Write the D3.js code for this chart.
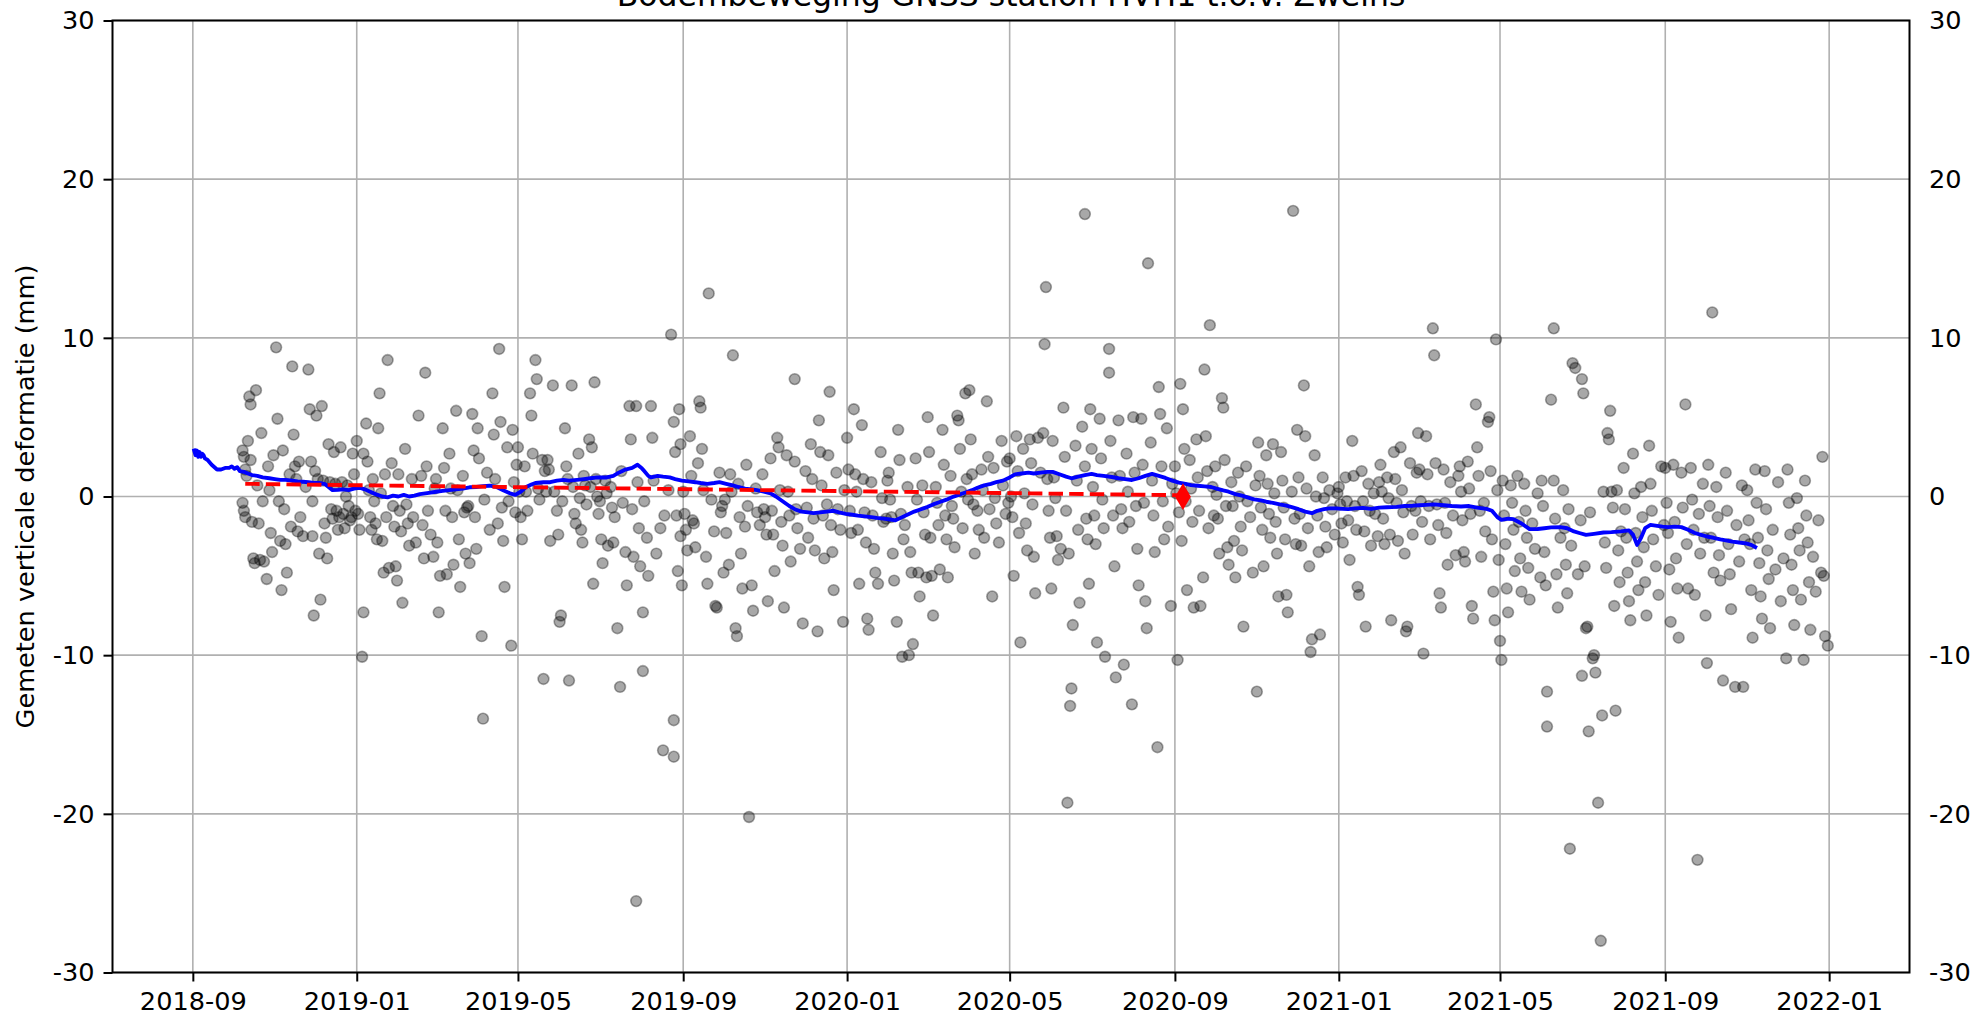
<!DOCTYPE html>
<html>
<head>
<meta charset="utf-8">
<script src="https://cdn.jsdelivr.net/npm/d3@7"></script>
<style>
  body { margin: 0; background: #fff; }
  svg text { font-family: "DejaVu Sans", sans-serif; fill: #000; }
</style>
</head>
<body>
<svg id="chart"></svg>
<script>
// texts
var titleText = "Bodembeweging GNSS station HVH1 t.o.v. Zweins";
var yLabelText = "Gemeten verticale deformatie (mm)";
var yTicks = [-30, -20, -10, 0, 10, 20, 30];

// daily solutions, per year: [month, day, mm]
var obs2018 = [
 [10,8,2.9],[10,8,-0.4],[10,9,2.5],[10,9,-0.9],[10,10,1.7],[10,10,-1.3],[10,11,1.3],[10,12,3.5],[10,13,6.3],[10,14,5.8],[10,14,2.3],[10,15,-1.6],[10,16,-3.9],[10,17,-4.2],[10,18,6.7],[10,19,0.7],[10,20,-1.7],[10,21,-4.0],[10,22,4.0],[10,23,-0.3],[10,24,-4.1],[10,26,-5.2],[10,27,1.9],[10,28,0.4],[10,29,-2.3],[10,30,-3.5],[10,31,2.6],
 [11,2,9.4],[11,3,4.9],[11,4,-0.3],[11,5,-2.8],[11,6,-5.9],[11,7,2.9],[11,8,-0.8],[11,9,-3.0],[11,10,-4.8],[11,12,1.4],[11,13,-1.9],[11,14,8.2],[11,15,3.9],[11,16,1.9],[11,17,1.1],[11,18,-2.2],[11,19,2.2],[11,20,-1.3],[11,22,-2.5],[11,24,0.6],[11,26,8.0],[11,27,5.5],[11,28,2.2],[11,29,-0.3],[11,29,-2.5],[11,30,-7.5],
 [12,1,1.6],[12,2,5.1],[12,3,1.1],[12,4,-3.6],[12,5,-6.5],[12,6,5.7],[12,7,1.0],[12,8,-1.7],[12,9,-2.6],[12,10,-3.9],[12,11,3.3],[12,12,0.9],[12,13,-0.8],[12,14,-1.4],[12,15,2.8],[12,16,0.8],[12,17,-0.9],[12,18,-2.1],[12,19,-1.3],[12,20,3.1],[12,21,0.9],[12,22,-1.1],[12,23,-2.0],[12,24,0.0],[12,25,0.7],[12,26,-0.6],[12,27,-1.5],[12,28,-1.3],[12,29,2.7],[12,30,1.4],[12,31,-0.9]
];
var obs2019 = [
 [1,1,3.5],[1,2,-1.1],[1,3,-2.1],[1,5,-10.1],[1,6,-7.3],[1,6,2.7],[1,8,4.6],[1,9,2.2],[1,10,0.4],[1,11,-1.3],[1,12,-2.1],[1,13,1.1],[1,14,-0.3],[1,15,-1.7],[1,16,-2.7],[1,17,4.3],[1,18,6.5],[1,19,0.2],[1,20,-2.8],[1,21,-4.8],[1,22,1.4],[1,23,-1.3],[1,24,8.6],[1,25,-4.5],[1,27,2.1],[1,28,-0.6],[1,29,-1.9],[1,30,-4.4],[1,31,-5.3],
 [2,1,1.4],[2,2,-0.9],[2,3,-2.2],[2,4,-6.7],[2,6,3.0],[2,7,-0.5],[2,8,-1.7],[2,9,-3.1],[2,11,1.1],[2,12,-1.3],[2,14,-2.9],[2,16,5.1],[2,18,1.3],[2,19,-1.8],[2,20,-3.9],[2,21,7.8],[2,22,1.9],[2,23,-0.9],[2,25,-2.4],[2,27,-3.8],[2,28,0.5],
 [3,1,1.1],[3,2,-2.9],[3,3,-7.3],[3,4,-5.0],[3,6,4.3],[3,7,1.8],[3,8,-0.9],[3,9,-4.9],[3,11,2.7],[3,12,0.5],[3,13,-1.3],[3,14,-4.3],[3,16,5.4],[3,17,0.4],[3,18,-2.7],[3,19,-5.7],[3,21,1.3],[3,22,-1.0],[3,23,-3.6],[3,24,-0.7],[3,25,-0.6],[3,26,-4.2],[3,28,5.2],[3,29,2.9],[3,30,-1.3],[3,31,-3.3],
 [4,1,4.3],[4,2,2.4],[4,4,-8.8],[4,5,-14.0],[4,6,-0.2],[4,8,1.5],[4,10,-2.1],[4,12,6.5],[4,13,3.9],[4,14,1.1],[4,16,-1.7],[4,17,9.3],[4,18,4.7],[4,19,-0.7],[4,20,-2.8],[4,21,-5.7],[4,23,3.1],[4,24,-0.3],[4,26,-9.4],[4,27,4.2],[4,28,0.9],[4,29,-1.0],[4,30,2.0],
 [5,1,3.1],[5,2,0.3],[5,3,-1.3],[5,4,-2.7],[5,6,1.9],[5,7,0.3],[5,8,-0.9],[5,10,6.5],[5,11,5.1],[5,12,2.7],[5,14,8.6],[5,15,7.4],[5,16,0.5],[5,17,-0.2],[5,19,2.3],[5,20,-11.5],[5,21,1.6],[5,22,0.3],[5,23,2.3],[5,24,1.7],[5,25,-2.8],[5,27,7.0],[5,28,0.3],[5,30,-0.9],[5,31,-2.4],
 [6,1,-7.9],[6,2,-7.5],[6,3,-0.3],[6,5,4.3],[6,6,1.9],[6,7,1.1],[6,8,-11.6],[6,10,7.0],[6,11,0.6],[6,12,-1.1],[6,13,-1.7],[6,15,2.7],[6,16,-0.1],[6,17,-2.1],[6,18,-2.9],[6,19,1.3],[6,20,0.7],[6,21,-0.5],[6,23,3.6],[6,24,0.6],[6,25,3.1],[6,26,-5.5],[6,27,7.2],[6,28,1.1],[6,29,0.0],[6,30,-1.1],
 [7,1,-0.3],[7,2,-2.7],[7,3,-4.2],[7,5,1.0],[7,6,0.2],[7,7,-3.1],[7,9,0.6],[7,10,-0.7],[7,11,-2.9],[7,12,-1.3],[7,14,-8.3],[7,16,-12.0],[7,17,1.6],[7,18,-0.4],[7,20,-3.5],[7,21,-5.6],[7,23,5.7],[7,24,3.6],[7,25,-0.8],[7,26,-3.8],[7,28,-25.5],[7,28,5.7],[7,29,0.9],[7,30,-2.0],[7,31,-4.4],
 [8,2,-11.0],[8,2,-7.3],[8,3,-0.3],[8,5,-2.6],[8,6,-5.0],[8,8,5.7],[8,9,3.7],[8,10,1.0],[8,12,-3.6],[8,15,-2.0],[8,17,-16.0],[8,18,-1.2],[8,21,0.4],[8,23,10.2],[8,25,-16.4],[8,25,-14.1],[8,25,4.7],[8,26,2.8],[8,27,-1.2],[8,28,-4.7],[8,29,5.5],[8,30,3.3],[8,30,-2.5],[8,31,-5.6],
 [9,1,0.3],[9,2,-1.1],[9,3,-2.1],[9,4,-3.4],[9,6,3.8],[9,7,1.3],[9,8,-1.5],[9,9,-1.7],[9,10,-3.2],[9,12,2.1],[9,13,6.0],[9,14,5.6],[9,15,3.0],[9,16,0.4],[9,18,-3.8],[9,19,-5.5],[9,20,12.8],[9,22,-0.2],[9,24,-2.2],[9,25,-6.9],[9,26,-7.0],[9,28,1.5],[9,29,-1.0],[9,30,-0.6],
 [10,1,-4.8],[10,2,-0.2],[10,3,-2.3],[10,5,-4.3],[10,6,1.4],[10,7,0.3],[10,8,8.9],[10,10,-8.3],[10,11,-8.8],[10,12,0.8],[10,13,-1.3],[10,14,-3.6],[10,15,-5.8],[10,17,-1.9],[10,18,2.0],[10,19,-0.6],[10,20,-20.2],[10,22,-5.6],[10,23,-7.2],[10,25,0.5],[10,26,-1.0],[10,28,-1.8],[10,30,1.4],[10,31,-0.8],
 [11,1,-1.3],[11,2,-2.4],[11,3,-6.6],[11,5,2.4],[11,6,-0.9],[11,7,-2.4],[11,8,-4.7],[11,10,3.7],[11,11,3.1],[11,12,0.4],[11,13,-1.6],[11,14,-3.1],[11,15,-7.0],[11,17,2.6],[11,18,0.3],[11,19,-1.2],[11,20,-4.1],[11,23,7.4],[11,23,2.2],[11,24,-0.8],[11,25,-2.0],[11,27,-3.3],[11,29,-8.0],
 [12,1,1.6],[12,2,-0.7],[12,3,-2.6],[12,5,3.3],[12,6,1.1],[12,7,-1.4],[12,8,-3.4],[12,10,-8.5],[12,11,4.8],[12,12,2.8],[12,13,0.7],[12,14,-1.2],[12,15,-3.9],[12,19,6.6],[12,18,2.6],[12,17,-0.5],[12,20,-1.8],[12,21,-3.5],[12,22,-5.9],[12,24,1.5],[12,25,-0.8],[12,27,-2.1],[12,29,-7.9],[12,30,0.4]
];
var obs2020 = [
 [1,1,3.7],[1,2,1.7],[1,3,-0.9],[1,4,-2.3],[1,6,5.5],[1,7,1.4],[1,8,0.3],[1,9,-2.1],[1,10,-5.5],[1,12,4.5],[1,13,1.1],[1,14,-1.0],[1,15,-2.9],[1,16,-7.7],[1,17,-8.4],[1,19,0.9],[1,20,-1.2],[1,21,-3.3],[1,22,-4.8],[1,24,-5.5],[1,26,2.8],[1,27,-0.1],[1,28,-1.6],[1,30,-1.4],[1,31,1.0],
 [2,1,1.5],[2,2,-0.2],[2,3,-1.3],[2,4,-3.6],[2,5,-5.3],[2,7,-7.9],[2,8,4.2],[2,9,2.3],[2,10,-1.1],[2,11,-10.1],[2,12,-2.7],[2,13,-1.8],[2,15,0.6],[2,16,-10.0],[2,17,-3.5],[2,18,-4.8],[2,19,-9.3],[2,21,2.4],[2,22,-0.2],[2,23,-4.8],[2,24,-6.3],[2,26,0.7],[2,27,-1.0],[2,28,-2.4],[2,29,-5.1],
 [3,1,5.0],[3,2,2.8],[3,3,-2.6],[3,4,-5.0],[3,5,-7.5],[3,7,0.6],[3,8,-0.4],[3,9,-1.8],[3,10,-4.6],[3,12,4.2],[3,13,2.0],[3,14,-1.2],[3,15,-2.7],[3,16,-5.1],[3,18,1.3],[3,19,-0.6],[3,20,-1.4],[3,21,-3.2],[3,23,5.1],[3,24,4.8],[3,25,3.0],[3,26,0.3],[3,27,-2.0],[3,29,6.5],[3,30,1.1],[3,31,-0.2],
 [4,1,6.7],[4,2,3.6],[4,3,1.4],[4,4,-0.5],[4,5,-3.6],[4,7,-0.9],[4,8,-2.1],[4,10,1.7],[4,11,0.4],[4,12,-2.6],[4,14,6.0],[4,15,2.5],[4,16,-0.8],[4,18,-6.3],[4,19,1.8],[4,20,-0.1],[4,21,-1.7],[4,23,-2.9],[4,25,3.5],[4,26,0.7],[4,28,-1.1],[4,29,2.2],[4,30,-0.4],
 [5,1,2.4],[5,2,0.0],[5,3,-1.3],[5,4,-5.0],[5,6,3.8],[5,7,1.6],[5,8,-2.3],[5,9,-9.2],[5,11,3.0],[5,12,0.2],[5,13,-1.7],[5,14,-3.4],[5,16,3.6],[5,17,2.1],[5,18,-0.5],[5,19,-3.8],[5,20,-6.1],[5,22,3.7],[5,24,1.5],[5,26,4.0],[5,27,9.6],[5,28,13.2],[5,29,1.1],[5,30,-0.9],[5,31,-2.6],
 [6,1,-5.8],[6,2,3.5],[6,3,1.2],[6,4,-0.1],[6,5,-2.5],[6,6,-4.0],[6,8,-3.3],[6,10,5.6],[6,11,2.5],[6,12,-0.9],[6,13,-19.3],[6,14,-3.6],[6,15,-13.2],[6,16,-12.1],[6,17,-8.1],[6,19,3.2],[6,20,1.0],[6,21,-2.1],[6,22,-6.7],[6,24,4.4],[6,26,17.8],[6,26,1.9],[6,27,-1.4],[6,28,-2.7],[6,29,-5.5],[6,30,5.5],
 [7,1,3.0],[7,2,0.6],[7,3,-1.2],[7,4,-3.0],[7,5,-9.2],[7,7,4.9],[7,8,2.4],[7,9,-0.2],[7,10,-2.0],[7,11,-10.1],[7,14,9.3],[7,14,7.8],[7,15,3.5],[7,16,1.2],[7,17,-1.2],[7,18,-4.4],[7,19,-11.4],[7,21,4.8],[7,22,1.3],[7,23,-0.8],[7,24,-2.0],[7,25,-10.6],[7,27,2.7],[7,28,0.3],[7,29,-1.6],[7,31,-13.1],
 [8,1,5.0],[8,2,1.5],[8,3,-0.6],[8,4,-3.3],[8,5,-5.6],[8,7,4.9],[8,8,2.0],[8,9,-0.4],[8,10,-6.6],[8,11,-8.3],[8,12,14.7],[8,14,3.4],[8,15,1.0],[8,16,-1.2],[8,17,-3.5],[8,19,-15.8],[8,20,6.9],[8,21,5.2],[8,22,1.9],[8,23,-0.3],[8,24,-2.7],[8,26,4.3],[8,27,-1.9],[8,29,-6.9],[8,30,0.8],
 [9,1,1.9],[9,2,0.2],[9,3,-10.3],[9,4,-1.0],[9,5,7.1],[9,6,-2.8],[9,7,5.5],[9,8,3.0],[9,9,-0.3],[9,10,-5.9],[9,12,2.3],[9,13,0.5],[9,14,-1.6],[9,15,-7.0],[9,17,3.6],[9,18,1.2],[9,19,-0.9],[9,20,-6.9],[9,22,-5.1],[9,23,8.0],[9,24,3.8],[9,25,1.6],[9,26,-2.0],[9,27,10.8],[9,29,0.6],[9,30,-1.2],
 [10,1,1.9],[10,2,0.1],[10,3,-1.4],[10,4,-3.6],[10,6,6.2],[10,7,5.6],[10,8,2.3],[10,9,-0.6],[10,10,-3.2],[10,11,-4.3],[10,13,0.9],[10,14,-0.6],[10,15,-2.8],[10,16,-5.1],[10,18,1.5],[10,19,0.0],[10,20,-1.9],[10,21,-3.4],[10,22,-8.2],[10,24,1.9],[10,25,-0.3],[10,27,-1.3],[10,29,-4.8],[10,31,0.7],
 [11,1,-12.3],[11,2,3.4],[11,3,1.3],[11,4,-0.7],[11,5,-2.1],[11,6,-4.4],[11,8,2.6],[11,9,0.8],[11,10,-1.1],[11,11,-2.6],[11,13,3.3],[11,14,0.2],[11,15,-1.6],[11,16,-3.6],[11,17,-6.3],[11,19,2.8],[11,20,1.0],[11,21,-0.7],[11,22,-2.7],[11,23,-6.2],[11,24,-7.3],[11,28,18.0],[11,27,0.3],[11,29,-1.4],[11,30,-3.0],
 [12,1,4.2],[12,2,1.2],[12,3,-1.1],[12,4,-3.1],[12,6,7.0],[12,7,3.8],[12,8,0.5],[12,9,-2.0],[12,10,-4.4],[12,11,-9.8],[12,12,-9.0],[12,14,2.6],[12,15,0.0],[12,16,-1.2],[12,17,-3.5],[12,18,-8.7],[12,20,1.2],[12,21,-0.1],[12,22,-1.9],[12,23,-3.2],[12,25,0.4],[12,27,-0.8],[12,29,-2.4],[12,31,0.2]
];
var obs2021 = [
 [1,1,0.6],[1,2,-0.5],[1,3,-1.7],[1,4,-2.9],[1,6,1.2],[1,7,-0.3],[1,8,-1.5],[1,9,-4.0],[1,11,3.5],[1,12,1.3],[1,13,-0.6],[1,14,-2.1],[1,15,-5.7],[1,16,-6.2],[1,18,1.6],[1,19,-0.3],[1,20,-2.2],[1,21,-8.2],[1,23,0.8],[1,24,-0.9],[1,25,-3.1],[1,27,0.2],[1,28,-1.1],[1,30,-2.5],[1,31,0.9],
 [2,1,2.0],[2,2,0.3],[2,3,-1.4],[2,4,-3.0],[2,6,1.2],[2,7,-0.1],[2,8,-2.4],[2,9,-7.8],[2,11,2.8],[2,12,1.1],[2,13,-0.4],[2,14,-2.8],[2,16,3.1],[2,17,0.4],[2,18,-1.0],[2,19,-3.6],[2,20,-8.5],[2,21,-8.2],[2,23,2.1],[2,24,-0.6],[2,25,-2.4],[2,27,-0.9],[2,28,1.5],
 [3,1,4.0],[3,2,1.7],[3,3,-0.3],[3,4,-1.6],[3,5,-9.9],[3,7,3.8],[3,8,1.4],[3,9,-0.6],[3,10,-2.7],[3,12,10.6],[3,13,8.9],[3,14,2.1],[3,15,-0.5],[3,16,-1.8],[3,17,-6.1],[3,18,-7.0],[3,20,1.7],[3,21,-0.4],[3,22,-2.3],[3,23,-4.3],[3,25,0.9],[3,27,-1.2],[3,29,-3.7],[3,31,1.3],
 [4,1,1.9],[4,2,0.3],[4,3,-1.5],[4,4,-3.5],[4,5,-4.1],[4,7,2.2],[4,8,0.5],[4,9,-1.1],[4,10,-6.9],[4,11,-7.7],[4,13,5.8],[4,14,3.1],[4,15,1.3],[4,16,-0.9],[4,17,-3.8],[4,19,-0.4],[4,20,-2.2],[4,22,4.7],[4,23,5.0],[4,24,1.6],[4,25,-2.7],[4,26,-6.0],[4,27,-7.8],[4,28,9.9],[4,29,0.4],[4,30,-4.0],
 [5,1,-9.1],[5,2,-10.3],[5,3,1.0],[5,4,-1.2],[5,5,-3.0],[5,6,-5.8],[5,7,-7.3],[5,9,0.7],[5,10,-0.4],[5,11,-2.1],[5,12,-4.7],[5,14,1.3],[5,15,-1.6],[5,16,-3.9],[5,17,-6.0],[5,19,0.8],[5,20,-0.9],[5,21,-2.6],[5,22,-4.5],[5,23,-6.5],[5,25,-1.7],[5,27,-3.3],[5,29,0.2],[5,31,-5.1],
 [6,1,1.0],[6,2,-0.6],[6,3,-3.5],[6,4,-5.6],[6,5,-12.3],[6,5,-14.5],[6,8,6.1],[6,10,10.6],[6,10,1.0],[6,11,-1.4],[6,12,-4.9],[6,13,-7.0],[6,15,-2.6],[6,17,0.4],[6,18,-2.0],[6,19,-4.3],[6,20,-6.1],[6,21,-0.8],[6,22,-22.2],[6,23,-3.1],[6,24,8.4],[6,26,8.1],[6,28,-4.9],[6,30,-1.5],
 [7,1,7.4],[7,1,-11.3],[7,2,6.5],[7,3,-4.4],[7,4,-8.3],[7,5,-8.2],[7,6,-14.8],[7,7,-1.0],[7,9,-10.2],[7,10,-10.0],[7,11,-11.1],[7,13,-19.3],[7,15,-28.0],[7,16,-13.8],[7,17,0.3],[7,18,-2.9],[7,19,-4.5],[7,20,4.0],[7,21,3.6],[7,22,5.4],[7,23,0.3],[7,24,-0.7],[7,25,-6.9],[7,26,-13.5],[7,27,0.4],[7,28,-3.4],[7,29,-5.4],[7,30,-2.2],
 [8,1,1.8],[8,2,-0.8],[8,3,-2.6],[8,4,-4.8],[8,5,-6.6],[8,6,-7.8],[8,8,2.7],[8,9,0.2],[8,10,-2.3],[8,11,-4.1],[8,12,-5.9],[8,14,0.6],[8,15,-1.3],[8,16,-3.2],[8,17,-5.4],[8,18,-7.5],[8,20,3.2],[8,21,0.8],[8,22,-0.9],[8,23,-2.7],[8,25,-4.4],[8,27,-6.2],[8,29,1.9],[8,31,-1.8],
 [9,1,1.8],[9,2,-0.4],[9,3,-2.3],[9,4,-4.6],[9,5,-7.9],[9,7,2.0],[9,8,-1.6],[9,9,-3.9],[9,10,-5.8],[9,11,-8.9],[9,13,1.5],[9,14,-0.7],[9,16,5.8],[9,17,-3.0],[9,18,-5.8],[9,20,1.8],[9,21,-0.2],[9,22,-2.1],[9,23,-6.2],[9,25,-22.9],[9,26,-1.1],[9,27,-3.6],[9,29,0.8],[9,30,-2.6],
 [10,1,-7.5],[10,2,-10.5],[10,3,2.0],[10,4,-0.6],[10,5,-2.6],[10,6,11.6],[10,7,-4.8],[10,9,0.6],[10,10,-1.3],[10,11,-3.7],[10,12,-5.3],[10,14,-11.6],[10,16,1.5],[10,17,-0.9],[10,18,-3.0],[10,19,-4.9],[10,20,-7.1],[10,23,-12.0],[10,24,-1.8],[10,26,-4.1],[10,28,0.7],[10,29,-12.0],[10,30,-2.7],
 [11,1,0.4],[11,2,-1.5],[11,3,-3.0],[11,4,-5.9],[11,5,-8.9],[11,7,1.7],[11,8,-0.4],[11,9,-2.6],[11,10,-4.2],[11,11,-6.3],[11,12,-7.7],[11,14,1.6],[11,15,-0.8],[11,16,-3.4],[11,17,-5.2],[11,18,-8.3],[11,20,-2.1],[11,22,-4.6],[11,24,0.9],[11,26,-6.6],[11,28,-3.9],[11,30,-10.2],
 [12,1,1.7],[12,2,-0.4],[12,3,-2.4],[12,4,-4.3],[12,5,-5.9],[12,6,-8.1],[12,8,-0.1],[12,9,-2.0],[12,10,-3.4],[12,11,-6.5],[12,13,-10.3],[12,14,1.0],[12,15,-1.2],[12,16,-2.9],[12,17,-5.4],[12,18,-8.4],[12,20,-3.8],[12,22,-6.0],[12,24,-1.5],[12,26,-4.8],[12,27,2.5],[12,28,-5.0],[12,29,-8.8],[12,31,-9.4]
];

// running mean (blue): [days since trendStart, mm]
var trendStart = "2018-09-02";
var trend = [
 [0,2.9],[1,2.6],[2,2.9],[3,2.5],[4,2.8],[5,2.5],[6,2.7],[7,2.6],[8,2.4],[10,2.3],[13,2.0],[17,1.7],[20,1.7],[23,1.8],[26,1.8],[28,1.9],[30,1.75],[32,1.85],[34,1.6],[37,1.55],
 [40,1.45],[43,1.35],[47,1.3],[51,1.2],[56,1.15],[60,1.1],[64,1.05],[68,1.05],[73,1.0],[77,0.95],[81,0.93],[85,0.9],[89,0.85],[93,0.85],[97,0.8],[100,0.6],[103,0.4],[107,0.42],
 [111,0.45],[115,0.4],[119,0.5],[123,0.55],[127,0.45],[131,0.3],[135,0.15],[140,0.0],[144,-0.05],[148,0.05],[152,0.0],[156,0.1],[160,0.0],[164,0.05],[168,0.15],[172,0.2],
 [176,0.25],[180,0.3],[185,0.35],[190,0.4],[195,0.45],[200,0.5],[205,0.58],[210,0.6],[215,0.65],[220,0.68],[225,0.6],[230,0.4],[235,0.2],[239,0.1],[243,0.3],[247,0.6],
 [251,0.75],[254,0.85],[260,0.9],[265,0.9],[270,1.0],[275,1.05],[279,1.0],[285,1.05],[290,1.1],[295,1.15],[300,1.2],[304,1.2],[307,1.2],[312,1.3],[316,1.5],[321,1.7],
 [326,1.8],[330,2.0],[333,1.8],[335,1.6],[338,1.3],[340,1.2],[345,1.3],[349,1.25],[354,1.2],[358,1.1],[363,1.0],[368,0.95],[373,0.9],[377,0.85],[382,0.8],[387,0.85],
 [391,0.9],[396,0.8],[401,0.7],[405,0.6],[410,0.5],[415,0.45],[419,0.4],[424,0.3],[429,0.2],[433,0.0],[438,-0.3],[443,-0.6],[447,-0.8],[452,-0.95],[457,-1.0],[461,-1.05],
 [466,-1.0],[471,-0.95],[476,-0.9],[480,-1.0],[485,-1.1],[490,-1.15],[494,-1.2],[499,-1.25],[504,-1.3],[508,-1.35],[513,-1.4],[518,-1.45],[522,-1.5],[527,-1.3],[532,-1.1],
 [536,-0.95],[541,-0.8],[546,-0.65],[550,-0.5],[555,-0.35],[560,-0.2],[564,-0.05],[569,0.1],[574,0.25],[579,0.4],[583,0.55],[588,0.7],[593,0.8],[597,0.9],[602,1.0],
 [607,1.2],[611,1.4],[616,1.45],[621,1.5],[625,1.45],[630,1.5],[635,1.55],[639,1.55],[644,1.4],[649,1.25],[653,1.15],[658,1.25],[663,1.35],[668,1.42],[672,1.35],[677,1.3],
 [683,1.23],[688,1.15],[693,1.1],[698,1.04],[703,1.15],[708,1.3],[713,1.42],[718,1.3],[723,1.17],[728,1.0],[733,0.87],[738,0.8],[742,0.72],[747,0.68],[752,0.64],[757,0.6],
 [761,0.5],[766,0.38],[770,0.3],[775,0.15],[780,0.05],[784,-0.05],[789,-0.18],[794,-0.25],[798,-0.33],[803,-0.4],[808,-0.5],[813,-0.58],[817,-0.67],[822,-0.8],[827,-0.95],
 [832,-1.05],[836,-0.9],[841,-0.8],[845,-0.75],[850,-0.75],[855,-0.78],[859,-0.8],[864,-0.75],[870,-0.72],[876,-0.78],[882,-0.7],[888,-0.68],[895,-0.65],[901,-0.6],
 [907,-0.58],[912,-0.55],[917,-0.53],[923,-0.5],[930,-0.55],[936,-0.6],[943,-0.63],[949,-0.6],[955,-0.7],[962,-0.78],[966,-0.9],[970,-1.3],[973,-1.47],[978,-1.4],
 [982,-1.43],[988,-1.7],[994,-2.06],[1000,-2.05],[1005,-2.0],[1010,-1.95],[1017,-1.93],[1022,-2.0],[1027,-2.2],[1031,-2.3],[1036,-2.42],[1042,-2.35],[1049,-2.27],
 [1055,-2.25],[1062,-2.2],[1068,-2.14],[1071,-2.4],[1074,-3.05],[1077,-2.6],[1080,-2.0],[1084,-1.79],[1089,-1.85],[1093,-1.9],[1097,-1.93],[1102,-1.9],[1107,-1.93],
 [1112,-2.1],[1117,-2.3],[1121,-2.4],[1126,-2.52],[1131,-2.6],[1136,-2.7],[1141,-2.78],[1145,-2.84],[1150,-2.9],[1155,-2.95],[1159,-3.05],[1162,-3.19]
];

// linear fit (red dashed) and its end marker
var fitDates = ["2018-10-10", "2020-09-07"];
var fitValues = [0.8, 0.08];
var markerDate = "2020-09-07";
var markerValue = -0.01;

// set the dimensions and margins of the graph
var W = 1974, H = 1017;
var margin = {top: 20.5, right: 64.5, bottom: 44.5, left: 112.5},
    width = W - margin.left - margin.right,
    height = H - margin.top - margin.bottom;

var parseDay = d3.utcParse("%Y-%m-%d");

var obs = [];
[[2018, obs2018], [2019, obs2019], [2020, obs2020], [2021, obs2021]].forEach(function(yr) {
  yr[1].forEach(function(d) {
    obs.push({date: new Date(Date.UTC(yr[0], d[0] - 1, d[1])), value: d[2]});
  });
});
var t0 = parseDay(trendStart);
var trendData = trend.map(function(d) {
  return {date: d3.utcDay.offset(t0, d[0]), value: d[1]};
});
var fitData = fitDates.map(function(d, i) { return {date: parseDay(d), value: fitValues[i]}; });

// x range like matplotlib: data extent + 5% margin
var allDates = obs.map(function(d) { return d.date; }).concat(trendData.map(function(d) { return d.date; }));
var ext = d3.extent(allDates);
var pad = (ext[1] - ext[0]) * 0.05;
var x = d3.scaleUtc().domain([new Date(+ext[0] - pad), new Date(+ext[1] + pad)]).range([0, width]);
var y = d3.scaleLinear().domain([-30, 30]).range([height, 0]);

var svg = d3.select("#chart").attr("width", W).attr("height", H);
svg.append("rect").attr("width", W).attr("height", H).attr("fill", "#fff");

var g = svg.append("g").attr("transform", "translate(" + margin.left + "," + margin.top + ")");

var xTicks = x.ticks(d3.utcMonth.every(4));

// grid
g.append("g").selectAll("line").data(xTicks).join("line")
  .attr("x1", function(d) { return x(d); }).attr("x2", function(d) { return x(d); })
  .attr("y1", 0).attr("y2", height)
  .attr("stroke", "#b0b0b0").attr("stroke-width", 1.6);
g.append("g").selectAll("line").data(yTicks).join("line")
  .attr("x1", 0).attr("x2", width)
  .attr("y1", function(d) { return y(d); }).attr("y2", function(d) { return y(d); })
  .attr("stroke", "#b0b0b0").attr("stroke-width", 1.6);

// clip
svg.append("clipPath").attr("id", "plotclip").append("rect").attr("width", width).attr("height", height);
var plot = g.append("g").attr("clip-path", "url(#plotclip)");

// scatter
plot.append("g").selectAll("circle").data(obs).join("circle")
  .attr("cx", function(d) { return x(d.date); })
  .attr("cy", function(d) { return y(d.value); })
  .attr("r", 5.4)
  .attr("fill", "#000").attr("fill-opacity", 0.34)
  .attr("stroke", "#000").attr("stroke-opacity", 0.34).attr("stroke-width", 1.6);

// running mean
var line = d3.line().x(function(d) { return x(d.date); }).y(function(d) { return y(d.value); });
plot.append("path").datum(trendData)
  .attr("d", line).attr("fill", "none")
  .attr("stroke", "#0000ff").attr("stroke-width", 3.85)
  .attr("stroke-linejoin", "round").attr("stroke-linecap", "square");

// fit
plot.append("path").datum(fitData)
  .attr("d", line).attr("fill", "none")
  .attr("stroke", "#ff0000").attr("stroke-width", 3.85)
  .attr("stroke-dasharray", "14.4,6.2");

// thin diamond marker
plot.append("path")
  .attr("transform", "translate(" + x(parseDay(markerDate)) + "," + y(markerValue) + ")")
  .attr("d", "M0,-13.3L7.9,0L0,13.3L-7.9,0Z")
  .attr("fill", "#ff0000");

// axes
var fmt = function(d) { return String(d); };
var xAxis = g.append("g").attr("transform", "translate(0," + height + ")")
  .call(d3.axisBottom(x).tickValues(xTicks).tickFormat(d3.utcFormat("%Y-%m")).tickSize(9).tickPadding(10));
var yAxis = g.append("g")
  .call(d3.axisLeft(y).tickValues(yTicks).tickFormat(fmt).tickSize(9).tickPadding(9));
var yAxisR = g.append("g").attr("transform", "translate(" + width + ",0)")
  .call(d3.axisRight(y).tickValues(yTicks).tickFormat(fmt).tickSize(0).tickPadding(19.5));

[xAxis, yAxis, yAxisR].forEach(function(a) {
  a.select(".domain").remove();
  a.selectAll(".tick line").attr("stroke", "#000").attr("stroke-width", 2);
  a.selectAll(".tick text").attr("font-size", "25.6px").attr("font-family", "DejaVu Sans").attr("fill", "#000");
});

// frame
g.append("rect").attr("width", width).attr("height", height)
  .attr("fill", "none").attr("stroke", "#000").attr("stroke-width", 2);

// title (sits partly above the top edge, as in the original figure)
svg.append("text")
  .attr("x", margin.left + width / 2).attr("y", 6)
  .attr("text-anchor", "middle").attr("font-size", "31.5px")
  .text(titleText);

// y label
svg.append("text")
  .attr("transform", "translate(34," + (margin.top + height / 2) + ") rotate(-90)")
  .attr("text-anchor", "middle").attr("font-size", "25.6px")
  .text(yLabelText);
</script>
</body>
</html>
